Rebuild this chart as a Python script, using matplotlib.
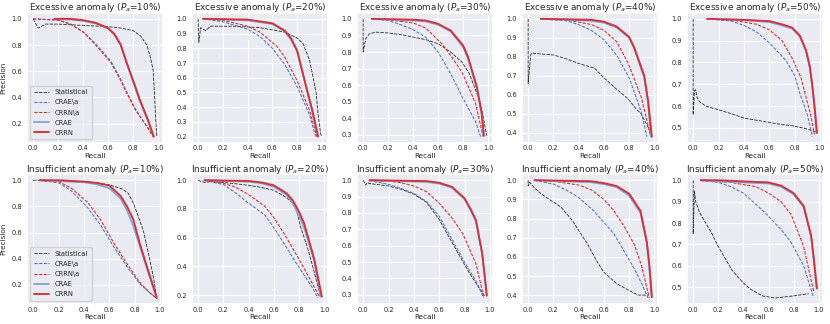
import matplotlib
matplotlib.use('Agg')
import matplotlib.pyplot as plt
import seaborn as sns
from matplotlib.ticker import MultipleLocator

# ---- data: (recall, precision) points ----
# Excessive anomaly
exc10_stat = [(0, 1.0), (0.04, 0.93), (0.1, 0.96), (0.2, 0.96), (0.3, 0.955), (0.4, 0.95), (0.5, 0.945),
              (0.6, 0.94), (0.7, 0.93), (0.8, 0.91), (0.86, 0.87), (0.91, 0.8), (0.94, 0.7), (0.96, 0.61),
              (0.97, 0.45), (0.98, 0.25), (0.99, 0.1)]
exc10_craea = [(0.0, 1.0), (0.2, 0.99), (0.3, 0.96), (0.4, 0.9), (0.5, 0.81), (0.62, 0.68), (0.7, 0.54),
               (0.75, 0.44), (0.82, 0.31), (0.88, 0.22), (0.93, 0.15), (0.96, 0.1)]
exc10_crrna = [(0.0, 1.0), (0.2, 0.99), (0.3, 0.96), (0.4, 0.9), (0.5, 0.8), (0.62, 0.67), (0.7, 0.53),
               (0.75, 0.43), (0.82, 0.3), (0.88, 0.22), (0.93, 0.15), (0.96, 0.1)]
exc10_crae = [(0.17, 1.0), (0.3, 0.995), (0.4, 0.985), (0.5, 0.965), (0.6, 0.925), (0.65, 0.88), (0.7, 0.8),
              (0.75, 0.66), (0.8, 0.52), (0.855, 0.37), (0.92, 0.22), (0.965, 0.1)]
exc10_crrn = [(0.17, 1.0), (0.3, 1.0), (0.4, 0.99), (0.5, 0.97), (0.6, 0.93), (0.65, 0.885), (0.7, 0.805),
              (0.75, 0.66), (0.8, 0.53), (0.855, 0.38), (0.92, 0.225), (0.965, 0.1)]

exc20_stat = [(0, 1.0), (0.005, 0.84), (0.02, 0.94), (0.06, 0.92), (0.1, 0.95), (0.3, 0.95), (0.5, 0.94),
              (0.7, 0.91), (0.8, 0.87), (0.85, 0.83), (0.9, 0.72), (0.93, 0.6), (0.955, 0.49), (0.97, 0.35),
              (0.99, 0.22), (1.0, 0.2)]
exc20_craea = [(0.04, 1.0), (0.2, 0.98), (0.4, 0.93), (0.5, 0.88), (0.6, 0.8), (0.7, 0.69), (0.8, 0.54),
               (0.9, 0.35), (0.95, 0.2)]
exc20_crrna = [(0.04, 1.0), (0.2, 0.99), (0.4, 0.95), (0.5, 0.91), (0.64, 0.81), (0.7, 0.74), (0.8, 0.58),
               (0.9, 0.38), (0.96, 0.2)]
exc20_crae = [(0.04, 1.0), (0.4, 0.99), (0.6, 0.965), (0.7, 0.915), (0.75, 0.86), (0.8, 0.78), (0.876, 0.53),
              (0.92, 0.38), (0.97, 0.2)]
exc20_crrn = [(0.04, 1.0), (0.4, 0.995), (0.6, 0.97), (0.7, 0.92), (0.75, 0.87), (0.8, 0.786), (0.876, 0.53),
              (0.92, 0.39), (0.97, 0.2)]

exc30_stat = [(0, 1.0), (0.0, 0.8), (0.02, 0.88), (0.05, 0.91), (0.1, 0.92), (0.2, 0.915), (0.3, 0.905),
              (0.4, 0.89), (0.5, 0.875), (0.6, 0.85), (0.7, 0.8), (0.79, 0.74), (0.85, 0.67), (0.92, 0.53),
              (0.95, 0.45), (0.98, 0.33), (0.99, 0.295)]
exc30_craea = [(0.07, 1.0), (0.2, 0.99), (0.3, 0.965), (0.4, 0.935), (0.5, 0.89), (0.6, 0.8), (0.7, 0.67),
               (0.8, 0.52), (0.9, 0.38), (0.94, 0.29)]
exc30_crrna = [(0.07, 1.0), (0.2, 0.995), (0.4, 0.975), (0.5, 0.945), (0.63, 0.85), (0.7, 0.78), (0.79, 0.68),
               (0.9, 0.49), (0.96, 0.29)]
exc30_crae = [(0.07, 1.0), (0.4, 0.99), (0.5, 0.985), (0.6, 0.965), (0.7, 0.925), (0.8, 0.83), (0.84, 0.76),
              (0.91, 0.58), (0.95, 0.42), (0.965, 0.295)]
exc30_crrn = [(0.07, 1.0), (0.4, 0.995), (0.5, 0.99), (0.6, 0.97), (0.7, 0.93), (0.8, 0.84), (0.84, 0.77),
              (0.91, 0.59), (0.95, 0.43), (0.966, 0.295)]

exc40_stat = [(0, 1.0), (0.0, 0.66), (0.02, 0.81), (0.03, 0.82), (0.1, 0.815), (0.2, 0.81), (0.3, 0.79),
              (0.4, 0.765), (0.526, 0.74), (0.6, 0.69), (0.7, 0.63), (0.79, 0.58), (0.85, 0.53), (0.895, 0.5),
              (0.95, 0.43), (0.98, 0.39)]
exc40_craea = [(0.1, 1.0), (0.3, 0.99), (0.4, 0.97), (0.5, 0.94), (0.6, 0.89), (0.7, 0.81), (0.8, 0.69),
               (0.87, 0.56), (0.9, 0.5), (0.94, 0.38)]
exc40_crrna = [(0.1, 1.0), (0.3, 0.995), (0.5, 0.97), (0.6, 0.94), (0.7, 0.88), (0.79, 0.77), (0.895, 0.59),
               (0.95, 0.44), (0.97, 0.38)]
exc40_crae = [(0.1, 1.0), (0.5, 0.99), (0.6, 0.98), (0.7, 0.955), (0.8, 0.9), (0.84, 0.845), (0.92, 0.69),
              (0.95, 0.56), (0.975, 0.38)]
exc40_crrn = [(0.1, 1.0), (0.5, 0.995), (0.6, 0.985), (0.7, 0.96), (0.8, 0.905), (0.84, 0.85), (0.92, 0.7),
              (0.95, 0.57), (0.98, 0.38)]

exc50_stat = [(0, 1.0), (0.0, 0.56), (0.01, 0.67), (0.02, 0.675), (0.03, 0.64), (0.05, 0.62), (0.1, 0.6),
              (0.2, 0.583), (0.3, 0.565), (0.4, 0.545), (0.5, 0.535), (0.6, 0.525), (0.7, 0.515),
              (0.78, 0.51), (0.9, 0.495), (0.97, 0.48)]
exc50_craea = [(0.11, 1.0), (0.3, 0.99), (0.4, 0.97), (0.5, 0.94), (0.6, 0.89), (0.73, 0.81), (0.8, 0.74),
               (0.84, 0.66), (0.9, 0.56), (0.94, 0.46)]
exc50_crrna = [(0.11, 1.0), (0.3, 0.995), (0.5, 0.975), (0.6, 0.95), (0.7, 0.9), (0.78, 0.82), (0.85, 0.73),
               (0.89, 0.64), (0.93, 0.55), (0.955, 0.47)]
exc50_crae = [(0.11, 1.0), (0.4, 0.995), (0.6, 0.985), (0.7, 0.97), (0.78, 0.955), (0.84, 0.92), (0.89, 0.85),
              (0.92, 0.775), (0.94, 0.69), (0.96, 0.575), (0.975, 0.477)]
exc50_crrn = [(0.11, 1.0), (0.4, 0.995), (0.6, 0.99), (0.7, 0.975), (0.78, 0.96), (0.84, 0.924), (0.89, 0.856),
              (0.92, 0.78), (0.94, 0.69), (0.96, 0.58), (0.975, 0.477)]

# Insufficient anomaly
ins10_stat = [(0, 1.0), (0.1, 1.0), (0.2, 0.995), (0.3, 0.99), (0.4, 0.985), (0.5, 0.98), (0.6, 0.965),
              (0.7, 0.935), (0.75, 0.9), (0.79, 0.825), (0.83, 0.72), (0.87, 0.61), (0.92, 0.39),
              (0.95, 0.25), (0.974, 0.1)]
ins10_craea = [(0.05, 1.0), (0.2, 0.98), (0.3, 0.92), (0.43, 0.79), (0.53, 0.66), (0.63, 0.5), (0.74, 0.34),
               (0.84, 0.21), (0.92, 0.14), (0.97, 0.1)]
ins10_crrna = [(0.05, 1.0), (0.2, 0.99), (0.3, 0.94), (0.43, 0.83), (0.53, 0.7), (0.63, 0.53), (0.74, 0.36),
               (0.84, 0.22), (0.92, 0.14), (0.97, 0.1)]
ins10_crae = [(0.05, 1.0), (0.4, 0.985), (0.5, 0.97), (0.6, 0.94), (0.69, 0.86), (0.74, 0.77), (0.79, 0.65),
              (0.84, 0.5), (0.9, 0.32), (0.95, 0.17), (0.975, 0.1)]
ins10_crrn = [(0.05, 1.0), (0.2, 1.0), (0.4, 0.99), (0.5, 0.98), (0.6, 0.96), (0.69, 0.88), (0.74, 0.8),
              (0.79, 0.7), (0.84, 0.52), (0.9, 0.33), (0.95, 0.18), (0.975, 0.1)]

ins20_stat = [(0, 1.0), (0.03, 0.99), (0.05, 0.985), (0.1, 0.99), (0.2, 0.985), (0.3, 0.975), (0.4, 0.965),
              (0.5, 0.95), (0.6, 0.93), (0.7, 0.88), (0.75, 0.84), (0.78, 0.79), (0.81, 0.68), (0.87, 0.52),
              (0.92, 0.36), (0.97, 0.19)]
ins20_craea = [(0.05, 1.0), (0.2, 0.97), (0.3, 0.91), (0.4, 0.84), (0.526, 0.76), (0.6, 0.67), (0.68, 0.56),
               (0.786, 0.41), (0.9, 0.26), (0.95, 0.18)]
ins20_crrna = [(0.05, 1.0), (0.2, 0.98), (0.3, 0.95), (0.4, 0.9), (0.526, 0.82), (0.6, 0.74), (0.68, 0.63),
               (0.786, 0.47), (0.9, 0.29), (0.96, 0.19)]
ins20_crae = [(0.05, 1.0), (0.4, 0.99), (0.5, 0.98), (0.6, 0.955), (0.7, 0.9), (0.75, 0.84), (0.8, 0.75),
              (0.84, 0.67), (0.92, 0.44), (0.97, 0.19)]
ins20_crrn = [(0.05, 1.0), (0.4, 0.995), (0.5, 0.985), (0.6, 0.965), (0.7, 0.91), (0.75, 0.86), (0.8, 0.78),
              (0.84, 0.7), (0.92, 0.45), (0.98, 0.19)]

ins30_stat = [(0, 1.0), (0.02, 0.97), (0.03, 0.985), (0.05, 0.98), (0.1, 0.975), (0.2, 0.965), (0.3, 0.945),
              (0.4, 0.915), (0.5, 0.865), (0.6, 0.76), (0.73, 0.58), (0.84, 0.43), (0.9, 0.36), (0.96, 0.29)]
ins30_craea = [(0.05, 1.0), (0.1, 0.99), (0.2, 0.975), (0.3, 0.95), (0.4, 0.92), (0.5, 0.87), (0.6, 0.78),
               (0.7, 0.64), (0.8, 0.5), (0.9, 0.37), (0.95, 0.28)]
ins30_crrna = [(0.05, 1.0), (0.2, 0.995), (0.3, 0.985), (0.4, 0.965), (0.5, 0.93), (0.6, 0.86), (0.7, 0.77),
               (0.785, 0.675), (0.89, 0.49), (0.95, 0.29)]
ins30_crae = [(0.05, 1.0), (0.5, 0.99), (0.6, 0.98), (0.7, 0.955), (0.8, 0.885), (0.85, 0.815), (0.89, 0.75),
              (0.94, 0.545), (0.975, 0.295)]
ins30_crrn = [(0.05, 1.0), (0.5, 0.995), (0.6, 0.985), (0.7, 0.96), (0.8, 0.89), (0.85, 0.82), (0.89, 0.757),
              (0.94, 0.55), (0.976, 0.295)]

ins40_stat = [(0, 1.0), (0.0, 0.97), (0.01, 0.99), (0.05, 0.96), (0.1, 0.93), (0.26, 0.86), (0.35, 0.79),
              (0.47, 0.667), (0.55, 0.57), (0.6, 0.52), (0.7, 0.46), (0.785, 0.43), (0.87, 0.4),
              (0.955, 0.4)]
ins40_craea = [(0.05, 1.0), (0.2, 0.98), (0.3, 0.95), (0.4, 0.91), (0.52, 0.84), (0.6, 0.78), (0.68, 0.72),
               (0.76, 0.63), (0.84, 0.54), (0.9, 0.46), (0.95, 0.385)]
ins40_crrna = [(0.05, 1.0), (0.2, 0.995), (0.4, 0.975), (0.5, 0.95), (0.6, 0.9), (0.68, 0.84), (0.76, 0.76),
               (0.84, 0.666), (0.9, 0.55), (0.96, 0.385)]
ins40_crae = [(0.05, 1.0), (0.5, 0.99), (0.6, 0.98), (0.7, 0.965), (0.8, 0.92), (0.85, 0.87), (0.89, 0.83),
              (0.94, 0.67), (0.96, 0.55), (0.98, 0.39)]
ins40_crrn = [(0.05, 1.0), (0.5, 0.995), (0.6, 0.985), (0.7, 0.97), (0.8, 0.93), (0.85, 0.88), (0.89, 0.84),
              (0.94, 0.68), (0.96, 0.56), (0.98, 0.39)]

ins50_stat = [(0, 1.0), (0.0, 0.75), (0.01, 0.95), (0.02, 0.9), (0.05, 0.85), (0.1, 0.8), (0.15, 0.75),
              (0.2, 0.69), (0.31, 0.58), (0.4, 0.52), (0.46, 0.49), (0.55, 0.46), (0.65, 0.45),
              (0.8, 0.46), (0.92, 0.47)]
ins50_craea = [(0.06, 1.0), (0.2, 0.99), (0.3, 0.97), (0.4, 0.94), (0.57, 0.85), (0.7, 0.77), (0.78, 0.71),
               (0.88, 0.6), (0.955, 0.46)]
ins50_crrna = [(0.06, 1.0), (0.3, 0.99), (0.5, 0.97), (0.6, 0.94), (0.7, 0.9), (0.78, 0.84), (0.88, 0.69),
               (0.96, 0.48)]
ins50_crae = [(0.06, 1.0), (0.2, 0.995), (0.6, 0.985), (0.7, 0.97), (0.8, 0.935), (0.88, 0.875),
              (0.94, 0.735), (0.96, 0.63), (0.985, 0.495)]
ins50_crrn = [(0.06, 1.0), (0.2, 1.0), (0.6, 0.99), (0.7, 0.975), (0.8, 0.94), (0.88, 0.88), (0.94, 0.74),
              (0.96, 0.64), (0.985, 0.495)]

rates = ['10%', '20%', '30%', '40%', '50%']
rows = [
    ('Excessive', [(exc10_stat, exc10_craea, exc10_crrna, exc10_crae, exc10_crrn),
                   (exc20_stat, exc20_craea, exc20_crrna, exc20_crae, exc20_crrn),
                   (exc30_stat, exc30_craea, exc30_crrna, exc30_crae, exc30_crrn),
                   (exc40_stat, exc40_craea, exc40_crrna, exc40_crae, exc40_crrn),
                   (exc50_stat, exc50_craea, exc50_crrna, exc50_crae, exc50_crrn)]),
    ('Insufficient', [(ins10_stat, ins10_craea, ins10_crrna, ins10_crae, ins10_crrn),
                      (ins20_stat, ins20_craea, ins20_crrna, ins20_crae, ins20_crrn),
                      (ins30_stat, ins30_craea, ins30_crrna, ins30_crae, ins30_crrn),
                      (ins40_stat, ins40_craea, ins40_crrna, ins40_crae, ins40_crrn),
                      (ins50_stat, ins50_craea, ins50_crrna, ins50_crae, ins50_crrn)]),
]
series_names = ['Statistical', 'CRAE\\a', 'CRRN\\a', 'CRAE', 'CRRN']
ystep = [[0.2, 0.1, 0.1, 0.1, 0.1], [0.2, 0.2, 0.1, 0.1, 0.1]]

styles = [
    dict(color='#2b2b2b', ls=(0, (4, 1.5)), lw=0.6),
    dict(color='#4c72c4', ls=(0, (3, 1.5)), lw=0.75),
    dict(color='#d62728', ls=(0, (3, 1.5)), lw=0.75),
    dict(color='#87a3d8', ls='-', lw=1.35),
    dict(color='#d13438', ls='-', lw=1.35),
]

sns.set_theme(style='darkgrid')
plt.rcParams['font.family'] = ['DejaVu Sans']
plt.rcParams['grid.linewidth'] = 0.8

fig, axes = plt.subplots(2, 5, figsize=(8.3, 3.24), dpi=100)
fig.subplots_adjust(left=0.0325, right=0.9916, top=0.96, bottom=0.062, wspace=0.213, hspace=0.246)

for r, (kind, panels) in enumerate(rows):
    for c, curves in enumerate(panels):
        ax = axes[r, c]
        for name, pts, st in zip(series_names, curves, styles):
            xs = [p[0] for p in pts]
            ys = [p[1] for p in pts]
            ax.plot(xs, ys, label=name, **st)
        ax.set_title(f'{kind} anomaly ($P_a$={rates[c]})', fontsize=6.4, pad=2)
        ax.set_xlabel('Recall', fontsize=5.2, labelpad=1)
        ax.set_xticks([0.0, 0.2, 0.4, 0.6, 0.8, 1.0])
        ax.yaxis.set_major_locator(MultipleLocator(ystep[r][c]))
        ax.tick_params(axis='y', labelsize=4.8, length=0, pad=3.5)
        ax.tick_params(axis='x', labelsize=4.8, length=0, pad=2)
        if c == 0:
            ax.set_ylabel('Precision', fontsize=5.2)
            ax.yaxis.set_label_coords(-0.15, 0.5)
            ax.legend(loc='lower left', fontsize=4.9, handlelength=2.3,
                      borderpad=0.5, labelspacing=0.6)

plt.savefig('out.png', dpi=100)
